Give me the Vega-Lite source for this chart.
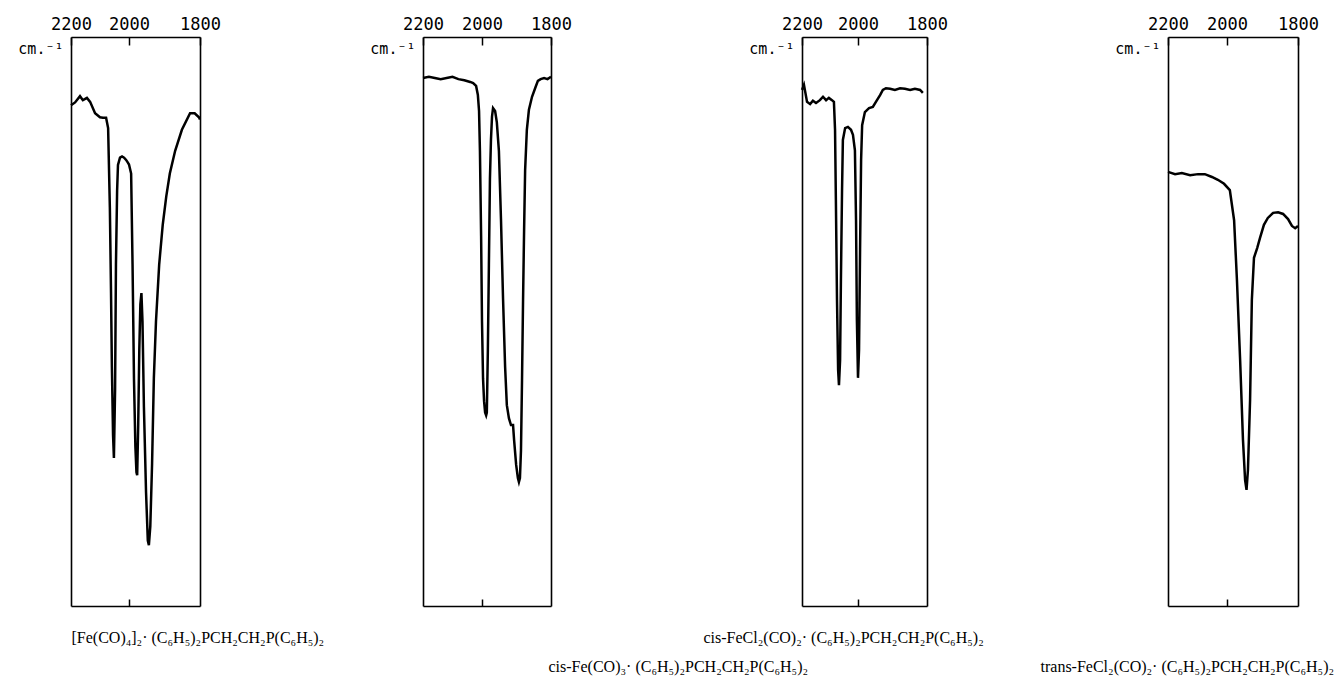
{
  "$schema": "https://vega.github.io/schema/vega-lite/v6.json",
  "autosize": {"type": "none"},
  "padding": {"left": 71, "top": 37, "right": 45, "bottom": 71},
  "width": 1227,
  "height": 569,
  "background": "white",
  "config": {
    "view": {"stroke": null},
    "axis": {"grid": false, "labelColor": "black", "tickColor": "black", "titleColor": "black", "domainColor": "black", "domainWidth": 1.6}
  },
  "datasets": {
    "p1": [
      {"wn": 2200, "T": 88.0}, {"wn": 2186, "T": 88.5}, {"wn": 2169, "T": 89.6}, {"wn": 2159, "T": 88.9}, {"wn": 2145, "T": 89.3}, {"wn": 2134, "T": 88.6}, {"wn": 2117, "T": 86.6}, {"wn": 2100, "T": 85.9}, {"wn": 2090, "T": 85.8}, {"wn": 2079, "T": 85.8}, {"wn": 2072, "T": 84}, {"wn": 2066, "T": 70}, {"wn": 2062, "T": 55}, {"wn": 2059, "T": 42}, {"wn": 2055, "T": 30}, {"wn": 2052, "T": 26}, {"wn": 2048, "T": 38}, {"wn": 2045, "T": 60}, {"wn": 2041, "T": 73}, {"wn": 2038, "T": 77.5}, {"wn": 2031, "T": 78.8}, {"wn": 2024, "T": 79}, {"wn": 2017, "T": 78.8}, {"wn": 2010, "T": 78.4}, {"wn": 2005, "T": 78}, {"wn": 2000, "T": 77.6}, {"wn": 1994, "T": 76}, {"wn": 1990, "T": 60}, {"wn": 1986, "T": 40}, {"wn": 1982, "T": 28}, {"wn": 1979, "T": 23.5}, {"wn": 1977, "T": 23}, {"wn": 1974, "T": 32}, {"wn": 1971, "T": 45}, {"wn": 1968, "T": 53}, {"wn": 1965, "T": 55}, {"wn": 1962, "T": 50}, {"wn": 1958, "T": 35}, {"wn": 1952, "T": 20}, {"wn": 1947, "T": 11.5}, {"wn": 1944, "T": 10.7}, {"wn": 1940, "T": 14}, {"wn": 1935, "T": 25}, {"wn": 1930, "T": 40}, {"wn": 1924, "T": 50}, {"wn": 1915, "T": 60}, {"wn": 1905, "T": 67}, {"wn": 1895, "T": 72}, {"wn": 1885, "T": 76}, {"wn": 1870, "T": 80}, {"wn": 1851, "T": 83.7}, {"wn": 1828, "T": 86.6}, {"wn": 1815, "T": 86.6}, {"wn": 1803, "T": 85.9}, {"wn": 1800, "T": 85.5}
    ],
    "p2": [
      {"wn": 2200, "T": 92.8}, {"wn": 2180, "T": 93.0}, {"wn": 2160, "T": 92.8}, {"wn": 2140, "T": 92.6}, {"wn": 2120, "T": 92.8}, {"wn": 2100, "T": 93.0}, {"wn": 2080, "T": 92.6}, {"wn": 2060, "T": 92.4}, {"wn": 2040, "T": 92.1}, {"wn": 2030, "T": 91.9}, {"wn": 2020, "T": 91.4}, {"wn": 2014, "T": 89.8}, {"wn": 2010, "T": 87}, {"wn": 2007, "T": 80}, {"wn": 2003, "T": 65}, {"wn": 2000, "T": 50}, {"wn": 1997, "T": 40}, {"wn": 1994, "T": 36}, {"wn": 1991, "T": 34}, {"wn": 1988, "T": 33.5}, {"wn": 1986, "T": 34}, {"wn": 1983, "T": 45}, {"wn": 1980, "T": 60}, {"wn": 1977, "T": 75}, {"wn": 1974, "T": 82}, {"wn": 1971, "T": 86}, {"wn": 1968, "T": 87.5}, {"wn": 1962, "T": 87}, {"wn": 1957, "T": 85}, {"wn": 1951, "T": 80}, {"wn": 1945, "T": 68}, {"wn": 1939, "T": 54}, {"wn": 1933, "T": 42}, {"wn": 1928, "T": 35.3}, {"wn": 1922, "T": 33}, {"wn": 1916, "T": 31.8}, {"wn": 1910, "T": 31.8}, {"wn": 1907, "T": 29.2}, {"wn": 1901, "T": 24.8}, {"wn": 1896, "T": 22.5}, {"wn": 1893, "T": 21.8}, {"wn": 1890, "T": 22.5}, {"wn": 1887, "T": 27.4}, {"wn": 1884, "T": 39.7}, {"wn": 1881, "T": 53.8}, {"wn": 1878, "T": 66}, {"wn": 1875, "T": 76.6}, {"wn": 1870, "T": 83.7}, {"wn": 1864, "T": 87.2}, {"wn": 1855, "T": 89.5}, {"wn": 1846, "T": 91}, {"wn": 1838, "T": 92.3}, {"wn": 1830, "T": 92.6}, {"wn": 1820, "T": 92.8}, {"wn": 1810, "T": 92.6}, {"wn": 1800, "T": 93}
    ],
    "p3": [
      {"wn": 2200, "T": 90.7}, {"wn": 2193, "T": 91.6}, {"wn": 2182, "T": 88.6}, {"wn": 2171, "T": 88.2}, {"wn": 2161, "T": 88.8}, {"wn": 2150, "T": 88.4}, {"wn": 2136, "T": 88.9}, {"wn": 2125, "T": 89.5}, {"wn": 2114, "T": 88.9}, {"wn": 2104, "T": 89.3}, {"wn": 2093, "T": 88.9}, {"wn": 2086, "T": 88.6}, {"wn": 2082, "T": 83.7}, {"wn": 2079, "T": 71.4}, {"wn": 2075, "T": 53.8}, {"wn": 2071, "T": 41.5}, {"wn": 2068, "T": 38.8}, {"wn": 2064, "T": 43.2}, {"wn": 2061, "T": 57.3}, {"wn": 2057, "T": 73.1}, {"wn": 2054, "T": 81.9}, {"wn": 2046, "T": 84}, {"wn": 2036, "T": 84.2}, {"wn": 2025, "T": 83.7}, {"wn": 2018, "T": 82.8}, {"wn": 2011, "T": 80.1}, {"wn": 2007, "T": 67.8}, {"wn": 2004, "T": 50.3}, {"wn": 2000, "T": 40.1}, {"wn": 1997, "T": 45}, {"wn": 1994, "T": 62.6}, {"wn": 1991, "T": 78.4}, {"wn": 1988, "T": 84.5}, {"wn": 1980, "T": 86.8}, {"wn": 1968, "T": 87.5}, {"wn": 1957, "T": 87.7}, {"wn": 1945, "T": 88.9}, {"wn": 1936, "T": 89.8}, {"wn": 1928, "T": 90.7}, {"wn": 1919, "T": 91.0}, {"wn": 1907, "T": 90.9}, {"wn": 1893, "T": 90.7}, {"wn": 1878, "T": 91.0}, {"wn": 1864, "T": 90.9}, {"wn": 1849, "T": 90.7}, {"wn": 1835, "T": 90.9}, {"wn": 1820, "T": 90.7}, {"wn": 1812, "T": 90.2}
    ],
    "p4": [
      {"wn": 2200, "T": 76.3}, {"wn": 2176, "T": 75.9}, {"wn": 2153, "T": 76.1}, {"wn": 2125, "T": 75.7}, {"wn": 2098, "T": 75.9}, {"wn": 2075, "T": 75.9}, {"wn": 2051, "T": 75.4}, {"wn": 2031, "T": 74.9}, {"wn": 2010, "T": 74.2}, {"wn": 1992, "T": 73.1}, {"wn": 1980, "T": 67.8}, {"wn": 1972, "T": 57.3}, {"wn": 1963, "T": 43.2}, {"wn": 1955, "T": 29.2}, {"wn": 1949, "T": 22.1}, {"wn": 1945, "T": 20.4}, {"wn": 1941, "T": 23.9}, {"wn": 1935, "T": 36.2}, {"wn": 1930, "T": 53.8}, {"wn": 1924, "T": 61.2}, {"wn": 1915, "T": 62.9}, {"wn": 1907, "T": 64.7}, {"wn": 1896, "T": 67}, {"wn": 1885, "T": 68.2}, {"wn": 1870, "T": 69.1}, {"wn": 1856, "T": 69.2}, {"wn": 1842, "T": 68.9}, {"wn": 1828, "T": 68}, {"wn": 1817, "T": 66.8}, {"wn": 1808, "T": 66.4}, {"wn": 1800, "T": 66.8}
    ]
  },
  "resolve": {"scale": {"x": "independent"}, "axis": {"x": "independent", "y": "independent"}},
  "layer": [
    {
      "data": {"name": "p1"},
      "mark": {"type": "line", "color": "black", "strokeWidth": 2.5},
      "encoding": {
        "x": {"field": "wn", "type": "quantitative", "scale": {"domain": [2200, 2000, 1800], "range": [0, 58, 129]},
          "axis": {"orient": "top", "values": [2200, 2000, 1800], "format": "d", "title": null, "tickSize": -8, "tickWidth": 1.5, "labelFont": "DejaVu Sans Mono", "labelFontSize": 17, "labelPadding": 12, "labelFlush": false, "labelAlign": "center", "labelOverlap": false}},
        "y": {"field": "T", "type": "quantitative", "scale": {"domain": [0, 100], "nice": false},
          "axis": {"orient": "left", "offset": 0, "labels": false, "ticks": false, "title": "cm.⁻¹", "titleAngle": 0, "titleAlign": "right", "titleBaseline": "alphabetic", "titleX": -8, "titleY": 16, "titleFont": "DejaVu Sans Mono", "titleFontSize": 15, "titleFontWeight": "normal"}}
      }
    },
    {
      "data": {"name": "p1"},
      "mark": {"type": "line", "opacity": 0},
      "encoding": {
        "x": {"field": "wn", "type": "quantitative", "scale": {"domain": [2200, 2000, 1800], "range": [0, 58, 129]},
          "axis": {"orient": "bottom", "values": [2000], "labels": false, "tickSize": -7, "tickWidth": 1.5, "title": "[Fe(CO)₄]₂· (C₆H₅)₂PCH₂CH₂P(C₆H₅)₂", "titleX": 0, "titleY": 31, "titleAlign": "left", "titleBaseline": "middle", "titleFont": "Liberation Serif, DejaVu Serif, serif", "titleFontSize": 16, "titleFontWeight": "normal"}},
        "y": {"field": "T", "type": "quantitative",
          "axis": {"orient": "right", "offset": -1098, "labels": false, "ticks": false, "title": null}}
      }
    },
    {
      "data": {"name": "p2"},
      "mark": {"type": "line", "color": "black", "strokeWidth": 2.5},
      "encoding": {
        "x": {"field": "wn", "type": "quantitative", "scale": {"domain": [2200, 2000, 1800], "range": [352, 411, 480]},
          "axis": {"orient": "top", "values": [2200, 2000, 1800], "format": "d", "title": null, "tickSize": -8, "tickWidth": 1.5, "labelFont": "DejaVu Sans Mono", "labelFontSize": 17, "labelPadding": 12, "labelFlush": false, "labelAlign": "center", "labelOverlap": false}},
        "y": {"field": "T", "type": "quantitative",
          "axis": {"orient": "left", "offset": -352, "labels": false, "ticks": false, "title": "cm.⁻¹", "titleAngle": 0, "titleAlign": "right", "titleBaseline": "alphabetic", "titleX": -8, "titleY": 16, "titleFont": "DejaVu Sans Mono", "titleFontSize": 15, "titleFontWeight": "normal"}}
      }
    },
    {
      "data": {"name": "p2"},
      "mark": {"type": "line", "opacity": 0},
      "encoding": {
        "x": {"field": "wn", "type": "quantitative", "scale": {"domain": [2200, 2000, 1800], "range": [352, 411, 480]},
          "axis": {"orient": "bottom", "values": [2000], "labels": false, "tickSize": -7, "tickWidth": 1.5, "title": "cis-Fe(CO)₃· (C₆H₅)₂PCH₂CH₂P(C₆H₅)₂", "titleX": 477, "titleY": 60, "titleAlign": "left", "titleBaseline": "middle", "titleFont": "Liberation Serif, DejaVu Serif, serif", "titleFontSize": 16, "titleFontWeight": "normal"}},
        "y": {"field": "T", "type": "quantitative",
          "axis": {"orient": "right", "offset": -747, "labels": false, "ticks": false, "title": null}}
      }
    },
    {
      "data": {"name": "p3"},
      "mark": {"type": "line", "color": "black", "strokeWidth": 2.5},
      "encoding": {
        "x": {"field": "wn", "type": "quantitative", "scale": {"domain": [2200, 2000, 1800], "range": [731, 787, 856]},
          "axis": {"orient": "top", "values": [2200, 2000, 1800], "format": "d", "title": null, "tickSize": -8, "tickWidth": 1.5, "labelFont": "DejaVu Sans Mono", "labelFontSize": 17, "labelPadding": 12, "labelFlush": false, "labelAlign": "center", "labelOverlap": false}},
        "y": {"field": "T", "type": "quantitative",
          "axis": {"orient": "left", "offset": -731, "labels": false, "ticks": false, "title": "cm.⁻¹", "titleAngle": 0, "titleAlign": "right", "titleBaseline": "alphabetic", "titleX": -8, "titleY": 16, "titleFont": "DejaVu Sans Mono", "titleFontSize": 15, "titleFontWeight": "normal"}}
      }
    },
    {
      "data": {"name": "p3"},
      "mark": {"type": "line", "opacity": 0},
      "encoding": {
        "x": {"field": "wn", "type": "quantitative", "scale": {"domain": [2200, 2000, 1800], "range": [731, 787, 856]},
          "axis": {"orient": "bottom", "values": [2000], "labels": false, "tickSize": -7, "tickWidth": 1.5, "title": "cis-FeCl₂(CO)₂· (C₆H₅)₂PCH₂CH₂P(C₆H₅)₂", "titleX": 632, "titleY": 31, "titleAlign": "left", "titleBaseline": "middle", "titleFont": "Liberation Serif, DejaVu Serif, serif", "titleFontSize": 16, "titleFontWeight": "normal"}},
        "y": {"field": "T", "type": "quantitative",
          "axis": {"orient": "right", "offset": -371, "labels": false, "ticks": false, "title": null}}
      }
    },
    {
      "data": {"name": "p4"},
      "mark": {"type": "line", "color": "black", "strokeWidth": 2.5},
      "encoding": {
        "x": {"field": "wn", "type": "quantitative", "scale": {"domain": [2200, 2000, 1800], "range": [1097, 1156, 1227]},
          "axis": {"orient": "top", "values": [2200, 2000, 1800], "format": "d", "title": null, "tickSize": -8, "tickWidth": 1.5, "labelFont": "DejaVu Sans Mono", "labelFontSize": 17, "labelPadding": 12, "labelFlush": false, "labelAlign": "center", "labelOverlap": false}},
        "y": {"field": "T", "type": "quantitative",
          "axis": {"orient": "left", "offset": -1097, "labels": false, "ticks": false, "title": "cm.⁻¹", "titleAngle": 0, "titleAlign": "right", "titleBaseline": "alphabetic", "titleX": -8, "titleY": 16, "titleFont": "DejaVu Sans Mono", "titleFontSize": 15, "titleFontWeight": "normal"}}
      }
    },
    {
      "data": {"name": "p4"},
      "mark": {"type": "line", "opacity": 0},
      "encoding": {
        "x": {"field": "wn", "type": "quantitative", "scale": {"domain": [2200, 2000, 1800], "range": [1097, 1156, 1227]},
          "axis": {"orient": "bottom", "values": [2000], "labels": false, "tickSize": -7, "tickWidth": 1.5, "title": "trans-FeCl₂(CO)₂· (C₆H₅)₂PCH₂CH₂P(C₆H₅)₂", "titleX": 969, "titleY": 60, "titleAlign": "left", "titleBaseline": "middle", "titleFont": "Liberation Serif, DejaVu Serif, serif", "titleFontSize": 16, "titleFontWeight": "normal"}},
        "y": {"field": "T", "type": "quantitative",
          "axis": {"orient": "right", "offset": 0, "labels": false, "ticks": false, "title": null}}
      }
    }
  ]
}
